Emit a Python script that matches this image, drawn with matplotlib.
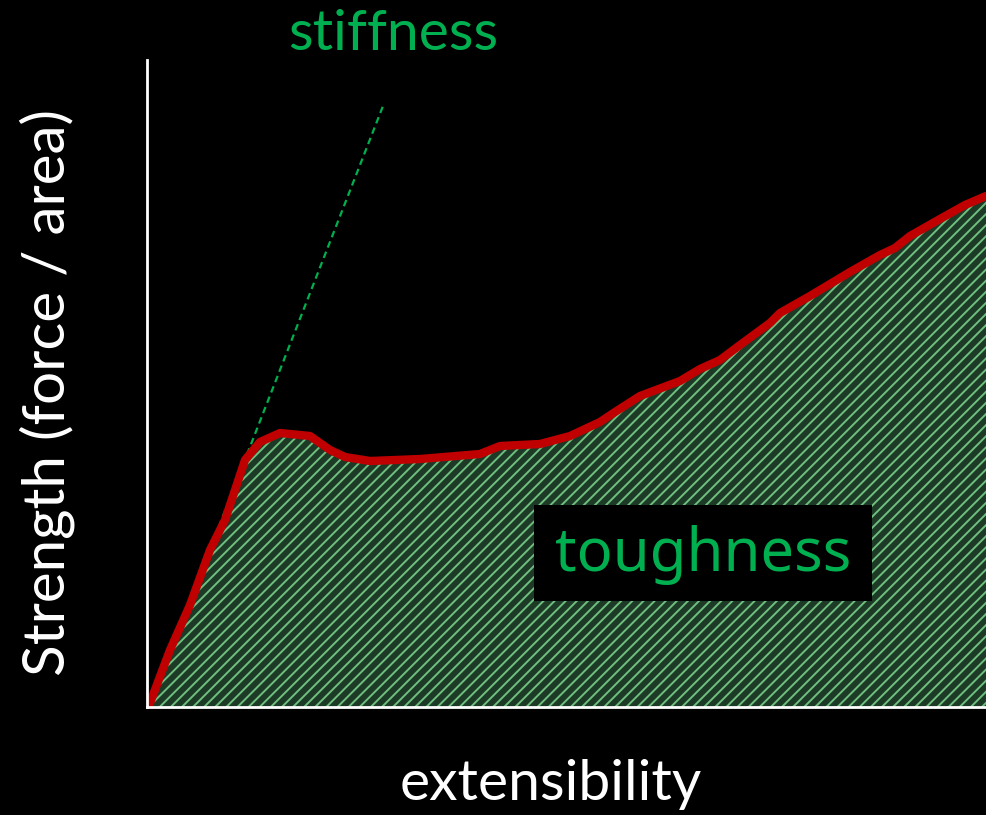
import numpy as np
import matplotlib.pyplot as plt
from matplotlib.patches import Rectangle

# curve (x = extensibility, y = strength, arbitrary units)
ext = [3, 23, 43, 63, 78, 88, 98, 113, 133, 163, 183, 198, 223, 273, 333, 353, 393,
       423, 453, 468, 493, 533, 553, 573, 593, 623, 633, 663, 703, 733, 748, 763, 793, 818, 839]
strength = [4, 57, 102, 157, 187, 217, 247, 265, 274, 271, 257, 250, 246, 248, 253, 261, 263,
            271, 285, 295, 311, 326, 338, 347, 362, 384, 394, 411, 435, 452, 459, 471, 488, 502, 511]
stiff_x = [3, 236]
stiff_y = [4, 601]

plt.rcParams['hatch.linewidth'] = 1.4
plt.rcParams['hatch.color'] = '#6fbf7f'

fig = plt.figure(figsize=(9.86, 8.15), dpi=100, facecolor='black')
ax = fig.add_axes([147 / 986, 108 / 815, 839 / 986, 647 / 815])
ax.set_facecolor('black')

x = np.array(ext)
y = np.array(strength)
ax.fill_between(x, 0, y, facecolor='#1d3a27', hatch='///', edgecolor='#6fbf7f', linewidth=0)
ax.plot(stiff_x, stiff_y, color='#00b050', linestyle=(0, (3, 2)), linewidth=1.6)
ax.plot(x, y, color='#c00000', linewidth=6, solid_capstyle='round', solid_joinstyle='round')

ax.set_xlim(0, 839)
ax.set_ylim(0, 647)
for s in ['top', 'right']:
    ax.spines[s].set_visible(False)
for s in ['left', 'bottom']:
    ax.spines[s].set_color('white')
    ax.spines[s].set_linewidth(2)
    ax.spines[s].set_zorder(5)
ax.set_xticks([])
ax.set_yticks([])

# axis titles
ax.set_xlabel('extensibility', color='white', fontsize=41, family='Lato')
ax.xaxis.set_label_coords((551 - 147) / 839, (707 - 785) / 647)
ax.xaxis.label.set_va('center')
ax.set_ylabel('Strength (force / area)', color='white', fontsize=42, family='Lato')
ax.yaxis.set_label_coords((47 - 147) / 839, (707 - 392) / 647)
ax.yaxis.label.set_va('center')

ax.text(246, 672, 'stiffness', color='#00b050', fontsize=41, family='Lato',
        ha='center', va='center', clip_on=False)

# toughness label on black box
ax.add_patch(Rectangle((387, 106), 338, 96, facecolor='black', edgecolor='none', zorder=3))
ax.text(556, 152, 'toughness', color='#00b050', fontsize=43, family='Noto Sans',
        ha='center', va='center', zorder=4)

fig.savefig('out.png', dpi=100, facecolor='black')
